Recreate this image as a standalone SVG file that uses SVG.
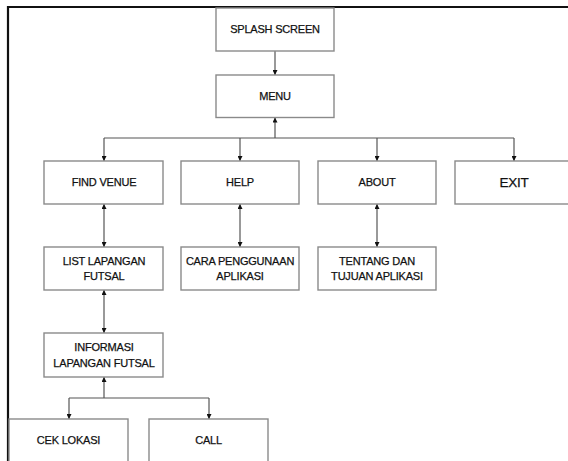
<svg xmlns="http://www.w3.org/2000/svg" width="568" height="461" viewBox="0 0 568 461">
<style>
.box{fill:#fff;stroke:#8a8a8a;stroke-width:1.4}
.t{font-family:"Liberation Sans",Arial,sans-serif;font-size:11px;fill:#111;stroke:#111;stroke-width:0.25;letter-spacing:-0.2px;text-anchor:middle}
.c{fill:none;stroke:#555;stroke-width:1.2}
</style>
<defs>
<marker id="ah" viewBox="0 0 6 6" refX="6" refY="3" markerWidth="5" markerHeight="5" markerUnits="userSpaceOnUse" orient="auto-start-reverse">
<path d="M0,0 L6,3 L0,6 Z" fill="#111"/>
</marker>
</defs>
<rect x="0" y="0" width="568" height="461" fill="#fff"/>
<path d="M8 461 V7 H568" fill="none" stroke="#111" stroke-width="2.2"/>
<g id="connectors">
<path class="c" d="M275 51 V75" marker-end="url(#ah)"/>
<path class="c" d="M275 138 V117.5" marker-end="url(#ah)"/>
<path class="c" d="M104 138 H514"/>
<path class="c" d="M104 138 V161" marker-end="url(#ah)"/>
<path class="c" d="M240 138 V161" marker-end="url(#ah)"/>
<path class="c" d="M377 138 V161" marker-end="url(#ah)"/>
<path class="c" d="M514 138 V161" marker-end="url(#ah)"/>
<path class="c" d="M104 204 V247" marker-start="url(#ah)" marker-end="url(#ah)"/>
<path class="c" d="M240 204 V247" marker-start="url(#ah)" marker-end="url(#ah)"/>
<path class="c" d="M377 204 V247" marker-start="url(#ah)" marker-end="url(#ah)"/>
<path class="c" d="M104 290 V333" marker-start="url(#ah)" marker-end="url(#ah)"/>
<path class="c" d="M104 398 V377" marker-end="url(#ah)"/>
<path class="c" d="M69 398 H209"/>
<path class="c" d="M69 398 V419" marker-end="url(#ah)"/>
<path class="c" d="M209 398 V419" marker-end="url(#ah)"/>
</g>
<g id="splash"><rect class="box" x="216" y="8" width="118" height="43"/><text class="t" x="275" y="33">SPLASH SCREEN</text></g>
<g id="menu"><rect class="box" x="216" y="75" width="118" height="42.5"/><text class="t" x="275" y="100">MENU</text></g>
<g id="findvenue"><rect class="box" x="44" y="161" width="119" height="43"/><text class="t" x="104" y="186">FIND VENUE</text></g>
<g id="help"><rect class="box" x="181" y="161" width="118" height="43"/><text class="t" x="240" y="186">HELP</text></g>
<g id="about"><rect class="box" x="318" y="161" width="118" height="43"/><text class="t" x="377" y="186">ABOUT</text></g>
<g id="exit"><rect class="box" x="455" y="161" width="118" height="43"/><text class="t" x="514" y="187" style="font-size:13.5px">EXIT</text></g>
<g id="list"><rect class="box" x="44" y="247" width="119" height="43"/><text class="t" x="104" y="265">LIST LAPANGAN</text><text class="t" x="104" y="280">FUTSAL</text></g>
<g id="cara"><rect class="box" x="181" y="247" width="118" height="43"/><text class="t" x="240" y="265">CARA PENGGUNAAN</text><text class="t" x="240" y="280">APLIKASI</text></g>
<g id="tentang"><rect class="box" x="318" y="247" width="118" height="43"/><text class="t" x="377" y="265">TENTANG DAN</text><text class="t" x="377" y="280">TUJUAN APLIKASI</text></g>
<g id="informasi"><rect class="box" x="44" y="333" width="119" height="44"/><text class="t" x="104" y="351">INFORMASI</text><text class="t" x="104" y="367">LAPANGAN FUTSAL</text></g>
<g id="ceklokasi"><rect class="box" x="9" y="419" width="119" height="60"/><text class="t" x="68.5" y="444">CEK LOKASI</text></g>
<g id="call"><rect class="box" x="149" y="419" width="119" height="60"/><text class="t" x="208.5" y="444">CALL</text></g>
</svg>
